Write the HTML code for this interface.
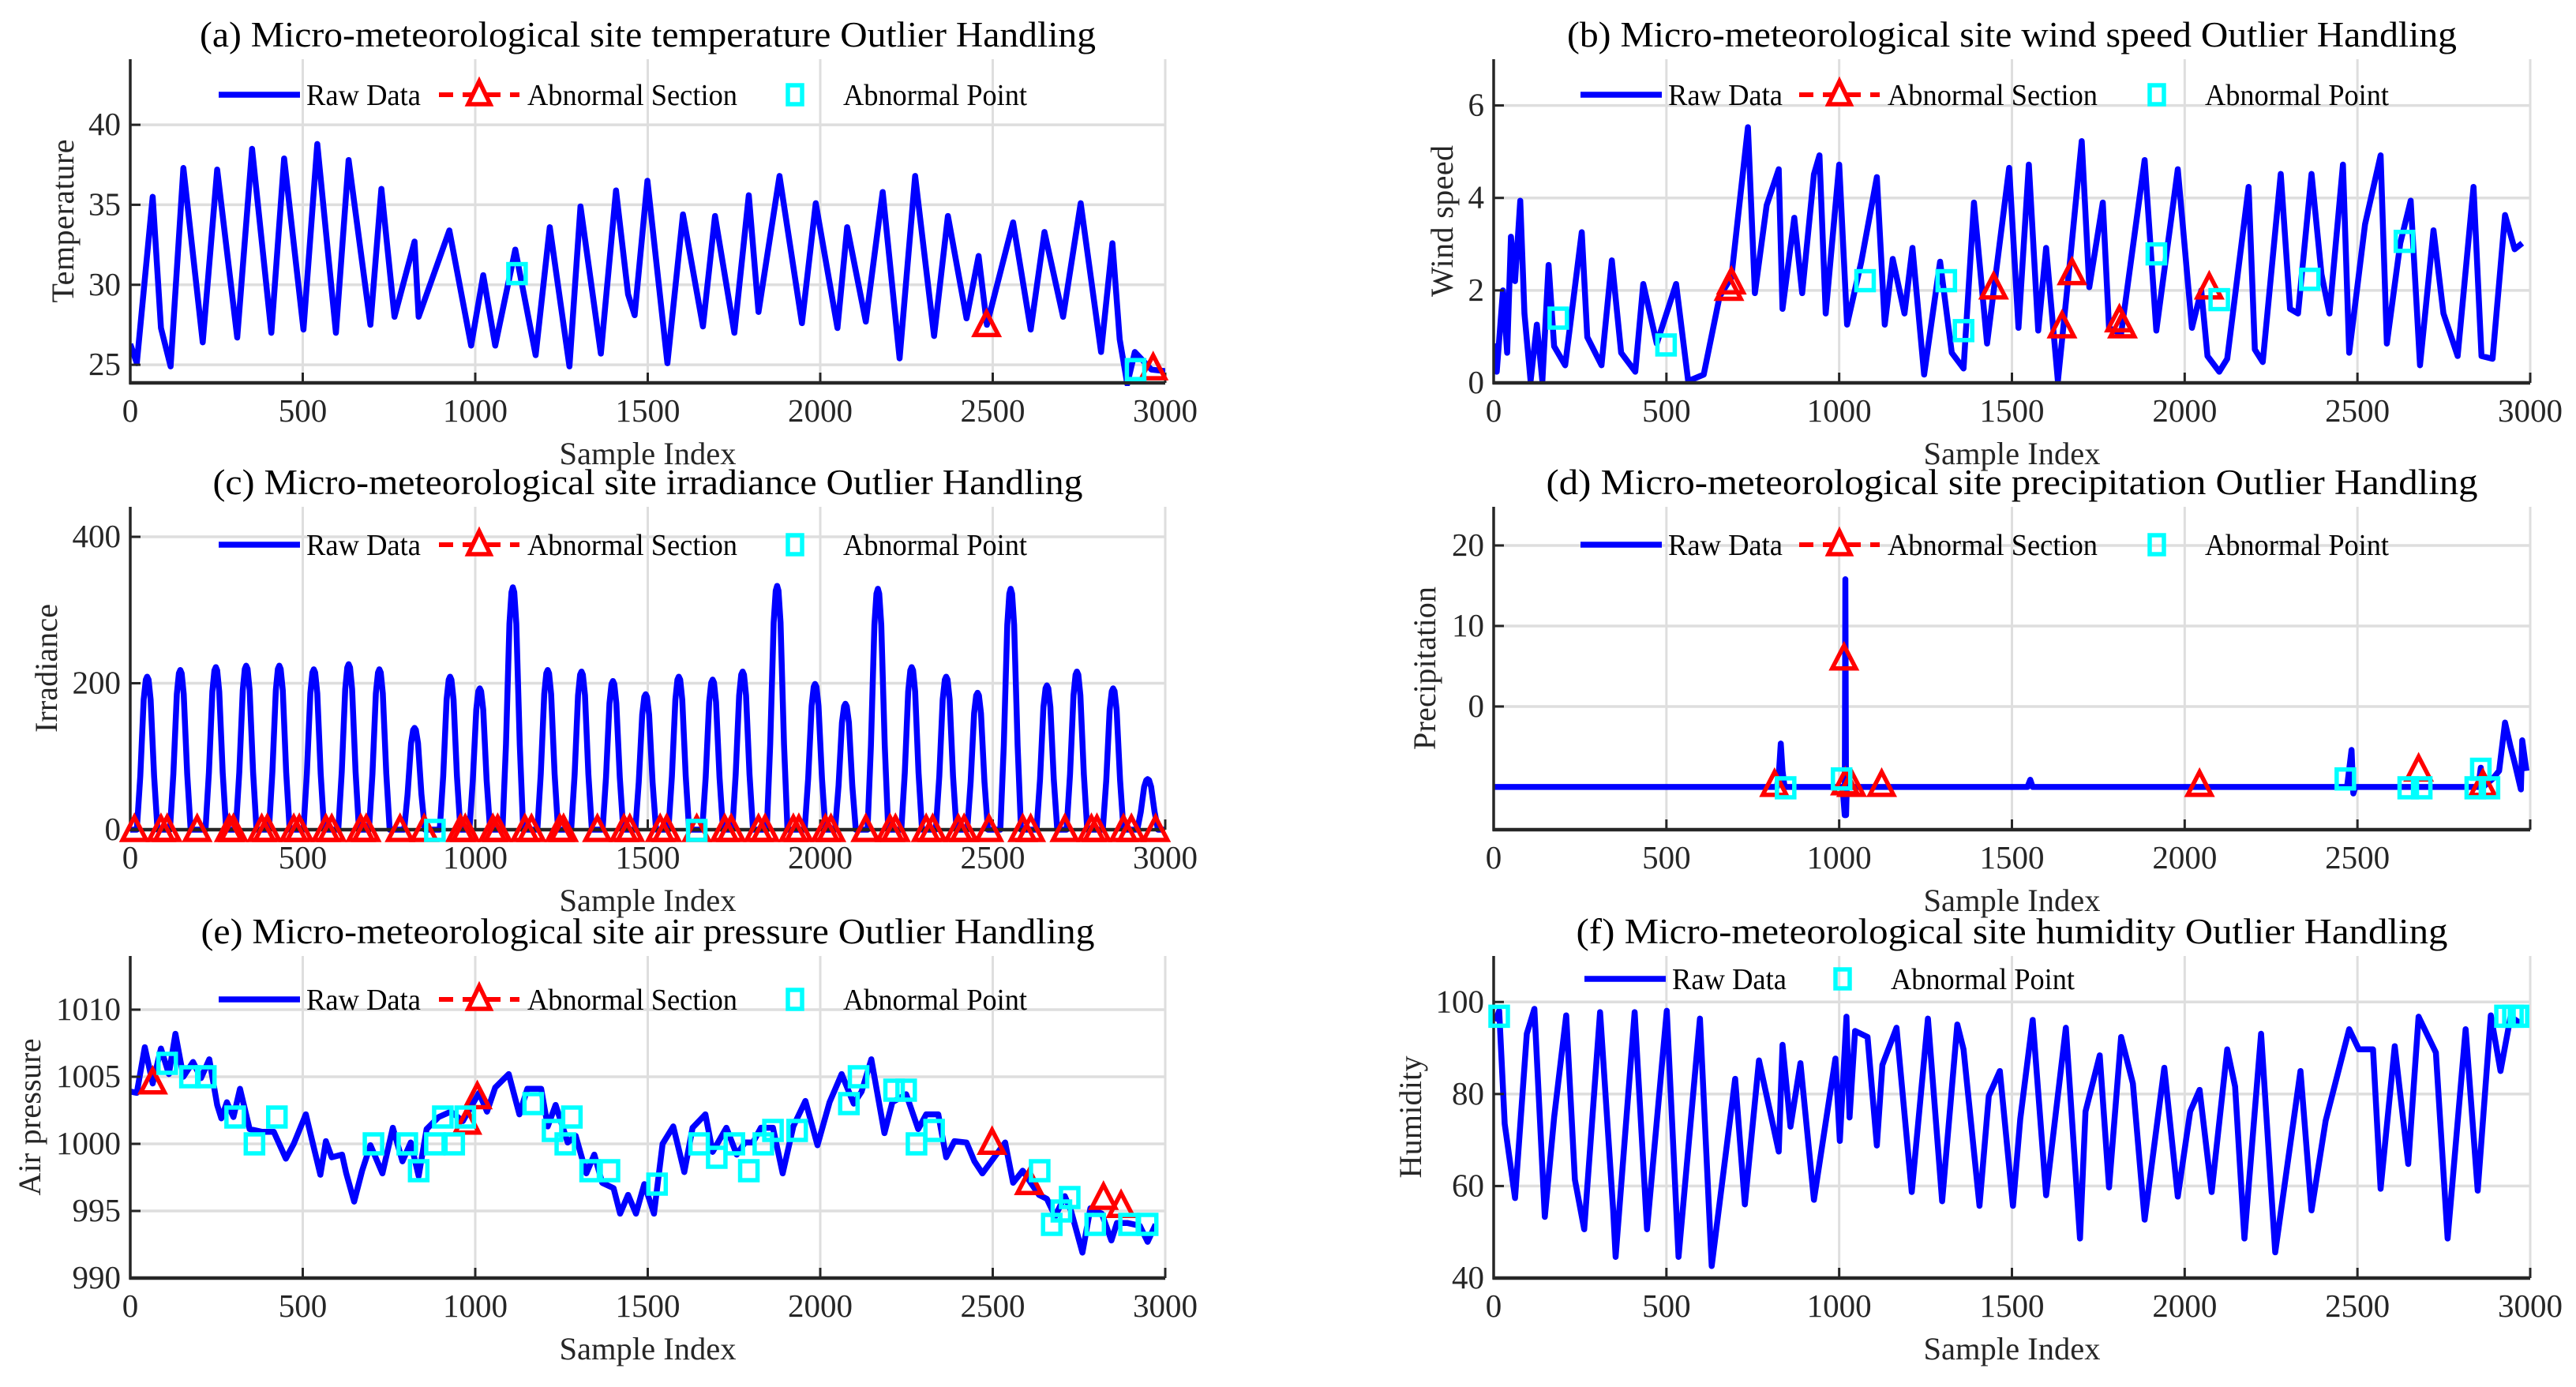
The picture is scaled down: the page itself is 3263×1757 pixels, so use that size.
<!DOCTYPE html>
<html><head><meta charset="utf-8"><style>
html,body{margin:0;padding:0;background:#fff;}
svg{display:block;font-family:"Liberation Serif",serif;}
</style></head><body>
<svg id="fig" width="3263" height="1757" viewBox="0 0 3263 1757" xmlns="http://www.w3.org/2000/svg"></svg>
<script>
// ---------------- DATA ----------------
// (a) temperature
const tempIdx=[0,19,65,89,117,154,210,252,310,353,409,446,502,542,596,633,696,728,766,824,836,925,988,1023,1058,1116,1175,1216,1273,1305,1364,1408,1443,1462,1499,1557,1602,1660,1695,1751,1793,1821,1882,1947,1987,2050,2078,2132,2181,2230,2275,2330,2370,2424,2459,2483,2559,2610,2650,2704,2755,2814,2847,2868,2890,2912,2960,3000];
const tempVal=[26.3,25.1,35.5,27.3,24.9,37.3,26.4,37.2,26.7,38.5,27.0,37.9,27.2,38.8,27.0,37.8,27.5,36.0,28.0,32.7,28.0,33.4,26.2,30.6,26.2,32.2,25.6,33.6,24.9,34.9,25.7,35.9,29.4,28.1,36.5,25.1,34.4,27.4,34.3,27.0,35.6,28.3,36.8,27.6,35.1,27.3,33.6,27.7,35.8,25.4,36.8,26.8,34.3,27.9,31.8,27.5,33.9,27.2,33.3,28.0,35.1,25.8,32.6,26.6,23.8,25.8,24.7,24.6];
const tempSecIdx=[2482,2965];
const tempSecVal=[27.5,24.8];
const tempPtIdx=[1121,2914];
const tempPtVal=[30.7,24.7];
// (b) wind speed
const windIdx=[0,9,27,39,50,62,77,89,107,125,141,159,175,207,255,271,312,342,369,410,433,472,528,563,608,654,688,736,756,790,825,836,870,893,927,943,961,1000,1023,1064,1109,1132,1155,1189,1212,1246,1292,1326,1360,1390,1428,1492,1519,1549,1576,1599,1633,1667,1702,1724,1763,1781,1816,1884,1918,1980,2021,2048,2066,2100,2123,2185,2203,2226,2278,2305,2328,2367,2396,2419,2458,2476,2522,2567,2585,2624,2654,2681,2720,2749,2790,2836,2859,2891,2927,2955,2977];
const windVal=[0.85,0.24,2.0,0.65,3.16,2.2,3.94,1.5,0.04,1.26,0.04,2.55,0.79,0.38,3.26,0.99,0.38,2.65,0.65,0.24,2.14,0.85,2.14,0.04,0.18,1.87,2.28,5.53,1.94,3.84,4.62,1.6,3.57,1.94,4.51,4.92,1.5,4.72,1.26,2.62,4.45,1.26,2.68,1.5,2.92,0.18,2.62,0.65,0.31,3.9,0.85,4.65,1.19,4.72,1.13,2.92,0.04,2.55,5.23,2.07,3.9,1.19,1.06,4.82,1.13,4.62,1.19,2.0,0.58,0.24,0.52,4.24,0.72,0.45,4.52,1.6,1.5,4.52,2.35,1.5,4.72,0.65,3.43,4.92,0.85,3.02,3.94,0.38,3.3,1.5,0.58,4.24,0.58,0.52,3.63,2.89,3.02];
const windSecIdx=[688,681,1447,1645,1674,1811,1820,2071];
const windSecVal=[2.18,2.04,2.07,1.23,2.38,1.36,1.23,2.07];
const windPtIdx=[187,499,1075,1310,1360,1918,2100,2362,2636];
const windPtVal=[1.4,0.82,2.21,2.21,1.13,2.79,1.8,2.24,3.06];
// (c) irradiance (daily peaks)
const irrPeakIdx=[49,145,248,336,432,532,633,722,824,927,1013,1109,1210,1308,1399,1494,1590,1688,1775,1875,1985,2073,2167,2265,2365,2456,2552,2657,2744,2849,2949];
const irrPeakVal=[209,218,222,224,224,219,226,219,139,209,193,331,218,216,203,185,209,205,216,333,199,172,329,222,209,187,329,197,216,193,69];
const irrSecIdx=[12,89,107,194,287,299,381,397,474,490,567,584,668,684,782,852,957,971,1051,1065,1144,1163,1245,1256,1354,1431,1448,1536,1555,1642,1723,1742,1821,1840,1922,1938,2015,2031,2132,2202,2218,2307,2326,2400,2417,2489,2587,2610,2709,2786,2802,2879,2902,2972];
const irrPtIdx=[883,1642];
// (d) precipitation
const precIdx=[0,820,826,831,836,842,1010,1016,1018,1020,1022,1028,1545,1553,1560,2470,2483,2488,2494,2850,2857,2864,2891,2910,2927,2943,2955,2973,2977,2989];
const precVal=[-10,-10,-8,-4.6,-8,-10,-10,-13.5,15.8,-13.5,-10,-10,-10,-9.1,-10,-10,-5.4,-10.8,-10,-10,-7.6,-10,-9.0,-8,-2.0,-5.0,-7.0,-10.3,-4.2,-8];
const precSecIdx=[813,1018,1014,1036,1123,2043,2677,2863];
const precSecVal=[-9.7,-9.5,6.0,-9.7,-9.7,-9.7,-7.8,-9.7];
const precPtIdx=[845,1007,2465,2647,2686,2857,2841,2882];
const precPtVal=[-10.1,-9.0,-9.0,-10.1,-10.1,-7.8,-10.1,-10.1];
// (e) air pressure
const presIdx=[0,19,42,65,89,112,131,154,182,205,229,252,264,280,299,318,346,381,416,451,474,509,551,567,584,614,626,649,672,696,731,761,789,813,836,859,894,929,964,1011,1034,1058,1097,1128,1151,1191,1210,1233,1268,1291,1322,1345,1368,1401,1420,1443,1466,1490,1518,1543,1574,1606,1630,1667,1688,1728,1758,1782,1805,1828,1863,1891,1922,1957,1992,2027,2062,2097,2120,2148,2186,2209,2249,2284,2307,2342,2365,2389,2424,2447,2470,2536,2559,2587,2610,2634,2657,2681,2709,2727,2760,2783,2816,2844,2860,2891,2926,2949,2972];
const presVal=[1003.9,1003.8,1007.2,1004.5,1007.1,1005.2,1008.2,1005.0,1006.1,1004.9,1006.3,1002.9,1001.9,1003.1,1002.0,1004.1,1001.1,1000.9,1000.9,998.9,1000.0,1002.2,997.7,1000.2,999.0,999.2,997.8,995.7,998.0,999.9,997.8,1001.2,998.7,1000.1,997.6,1001.1,1002.0,1002.4,1001.7,1003.8,1002.4,1004.2,1005.2,1002.2,1004.1,1004.1,1001.3,1002.9,1000.1,1000.6,997.8,999.2,997.1,996.7,994.8,996.2,994.8,997.0,994.8,1000.0,1001.3,997.9,1001.2,1002.2,999.4,1001.2,999.2,1000.1,1000.1,1001.2,1001.2,997.8,1001.3,1003.2,999.9,1003.1,1005.2,1003.0,1003.9,1006.3,1000.8,1003.1,1003.7,1001.1,1002.2,1002.2,999.0,1000.2,1000.1,998.7,997.8,1000.1,997.1,998.0,997.1,996.2,995.9,994.6,996.1,995.0,991.9,995.2,994.8,992.8,994.1,994.1,993.9,992.7,994.0];
const presSecIdx=[65,976,1006,2498,2606,2821,2872];
const presSecVal=[1004.6,1001.6,1003.5,1000.1,997.1,996.0,995.4];
const presPtIdx=[107,173,219,304,360,425,705,803,836,906,883,939,971,1168,1224,1280,1261,1333,1389,1527,1649,1700,1751,1793,1835,1863,1933,2083,2111,2214,2249,2279,2330,2636,2671,2699,2723,2797,2895,2949];
const presPtVal=[1006,1005,1005,1002,1000,1002,1000,1000,998,1002,1000,1000,1002,1003,1001,1002,1000,998,998,997,1000,999,1000,998,1000,1001,1001,1003,1005,1004,1004,1000,1001,998,994,995,996,994,994,994];
// (f) humidity
const humIdx=[5,16,32,62,96,118,148,175,210,235,262,308,346,353,408,444,501,535,597,631,699,727,768,825,836,859,888,927,989,1002,1021,1030,1046,1082,1109,1125,1166,1210,1257,1298,1342,1360,1406,1433,1465,1503,1524,1560,1599,1656,1697,1713,1754,1781,1816,1850,1884,1941,1980,2016,2043,2078,2123,2146,2173,2221,2262,2335,2367,2408,2476,2504,2545,2567,2608,2647,2677,2727,2761,2813,2848,2886,2914,2943,2977];
const humVal=[95.8,98.1,73.5,57.4,93.1,98.5,53.3,74.9,97.1,61.4,50.6,97.8,54.7,44.6,97.8,50.6,98.1,44.6,96.4,42.6,83.3,56.0,87.3,67.5,90.7,72.9,86.7,57.0,87.7,69.8,96.8,74.9,93.7,92.4,68.8,86.3,94.4,58.7,96.4,56.7,95.1,89.7,55.7,79.6,85.0,55.7,74.5,96.1,58.0,94.4,48.6,76.2,88.4,59.7,92.4,82.3,52.7,85.7,57.7,76.2,80.9,58.7,89.7,81.6,48.6,93.1,45.6,85.0,54.7,74.2,94.1,89.7,89.7,59.4,90.4,64.8,96.8,89.0,48.6,94.1,59.0,97.1,85.0,96.8,95.1];
const humPtIdx=[16,2927,2950,2966];
const humPtVal=[96.9,96.9,96.9,96.9];
const xTickVals=[0,500,1000,1500,2000,2500,3000];

// ---------------- DRAW ----------------
const NS='http://www.w3.org/2000/svg';
const svg=document.getElementById('fig');
function mk(tag,attrs,parent){const e=document.createElementNS(NS,tag);for(const k in attrs)e.setAttribute(k,attrs[k]);(parent||svg).appendChild(e);return e;}

const irrIdx=[0];const irrVal=[0];
for(let i=0;i<irrPeakIdx.length;i++){
  const p=irrPeakIdx[i],v=irrPeakVal[i];
  irrIdx.push(p-30,p-20,p-10,p-4,p,p+4,p+10,p+20,p+30);
  irrVal.push(0,v*0.35,v*0.85,v*0.98,v,v*0.98,v*0.85,v*0.35,0);
}
irrIdx.push(3000);irrVal.push(0);
const irrSecVal=irrSecIdx.map(()=>0);
const irrPtVal=irrPtIdx.map(()=>-1);

let clipN=0;
function panel(p){
  const g=mk('g',{});
  
  
  const sx=v=>p.x0+v/3000*(p.x1-p.x0);
  const sy=v=>p.y1-(v-p.ymin)/(p.ymax-p.ymin)*(p.y1-p.y0);
  xTickVals.forEach(t=>{ if(t>0){const l=mk('line',{x1:sx(t),x2:sx(t),y1:p.y0,y2:p.y1,stroke:'#dedede','stroke-width':3},g);
    
    }});
  p.yticks.forEach(t=>{const l=mk('line',{x1:p.x0,x2:p.x1,y1:sy(t),y2:sy(t),stroke:'#dedede','stroke-width':3.5},g);
    
    });
  const cid='c'+(clipN++);
  const cp=mk('clipPath',{id:cid},g);mk('rect',{x:p.x0,y:p.y0,width:p.x1-p.x0,height:p.y1-p.y0+4},cp);
  let d='';for(let i=0;i<p.idx.length;i++)d+=(i?'L':'M')+sx(p.idx[i]).toFixed(1)+','+sy(p.val[i]).toFixed(1);
  const path=mk('path',{d:d,fill:'none',stroke:'#0000ff','stroke-width':7.5,'stroke-linejoin':'round','clip-path':'url(#'+cid+')'},g);
  
  
  const ax=mk('line',{x1:p.x0,x2:p.x0,y1:p.y0,y2:p.y1+1.5,stroke:'#262626','stroke-width':3.5},g);
  
  
  const bx=mk('line',{x1:p.x0-1.5,x2:p.x1,y1:p.y1,y2:p.y1,stroke:'#262626','stroke-width':4.5},g);
  
  
  xTickVals.forEach(t=>{
    mk('line',{x1:sx(t),x2:sx(t),y1:p.y1,y2:p.y1-13,stroke:'#262626','stroke-width':3},g);
    if(p.noLast&&t===3000)return;
    const tx=mk('text',{x:sx(t),y:p.y1+49,'text-anchor':'middle','font-size':41,fill:'#262626'},g);
    tx.textContent=String(t);
    
    
  });
  p.yticks.forEach((t,i)=>{
    mk('line',{x1:p.x0,x2:p.x0+13,y1:sy(t),y2:sy(t),stroke:'#262626','stroke-width':3},g);
    const tx=mk('text',{x:p.x0-12,y:sy(t)+13,'text-anchor':'end','font-size':41,fill:'#262626'},g);
    tx.textContent=p.ylabels[i];
    
    
  });
  if(p.secIdx){p.secIdx.forEach((s,i)=>{const x=sx(s),y=sy(p.secVal[i]);
    const t=mk('polygon',{points:(x-15)+','+(y+13)+' '+(x+15)+','+(y+13)+' '+x+','+(y-16),fill:'none',stroke:'#ff0000','stroke-width':5.5},g);
    
    });}
  if(p.ptIdx){p.ptIdx.forEach((s,i)=>{const x=sx(s),y=sy(p.ptVal[i]);
    const r=mk('rect',{x:x-11,y:y-12,width:22,height:24,fill:'none',stroke:'#00ffff','stroke-width':5.5},g);
    
    });}
  const ti=mk('text',{x:(p.x0+p.x1)/2,y:p.y0-16,'text-anchor':'middle','font-size':45,fill:'#000',textLength:p.tlen,lengthAdjust:'spacingAndGlyphs'},g);
  ti.textContent=p.title;
  
  
  const xl=mk('text',{x:(p.x0+p.x1)/2,y:p.y1+103,'text-anchor':'middle','font-size':40,fill:'#262626',textLength:224,lengthAdjust:'spacingAndGlyphs'},g);
  xl.textContent='Sample Index';
  
  
  const cy=(p.y0+p.y1)/2;
  const yl=mk('text',{x:p.ylx,y:cy,'text-anchor':'middle','font-size':40,fill:'#262626',transform:'rotate(-90 '+p.ylx+' '+cy+')',textLength:p.yllen,lengthAdjust:'spacing',dy:13},g);
  yl.textContent=p.ylabel;
  
  
  const L=p.leg, ly=L.y;
  const lg=mk('g',{},g);
  
  
  mk('line',{x1:L.lx,x2:L.lx+103,y1:ly,y2:ly,stroke:'#0000ff','stroke-width':7.5},lg);
  const t1=mk('text',{x:L.lx+111,y:ly+13,'font-size':38,fill:'#000',textLength:145,lengthAdjust:'spacingAndGlyphs'},lg);
  t1.textContent='Raw Data';
  
  
  if(L.sx){
    mk('line',{x1:L.sx-51,x2:L.sx+51,y1:ly,y2:ly,stroke:'#ff0000','stroke-width':6,'stroke-dasharray':'18,12'},lg);
    mk('polygon',{points:(L.sx-14)+','+(ly+12)+' '+(L.sx+14)+','+(ly+12)+' '+L.sx+','+(ly-17),fill:'#fff',stroke:'#ff0000','stroke-width':5.5},lg);
    const t2=mk('text',{x:L.sx+61,y:ly+13,'font-size':38,fill:'#000',textLength:266,lengthAdjust:'spacingAndGlyphs'},lg);
    t2.textContent='Abnormal Section';
    
    
  }
  mk('rect',{x:L.px-9,y:ly-12,width:18,height:24,fill:'none',stroke:'#00ffff','stroke-width':5.5},lg);
  const t3=mk('text',{x:L.px+61,y:ly+13,'font-size':38,fill:'#000',textLength:233,lengthAdjust:'spacingAndGlyphs'},lg);
  t3.textContent='Abnormal Point';
  
  
}
const LX0=165,LX1=1476,RX0=1892,RX1=3205;
panel({name:'panel-a-temperature',x0:LX0,x1:LX1,y0:75,y1:485,ymin:23.87,ymax:44.1,yticks:[25,30,35,40],ylabels:['25','30','35','40'],
 idx:tempIdx,val:tempVal,secIdx:tempSecIdx,secVal:tempSecVal,ptIdx:tempPtIdx,ptVal:tempPtVal,
 title:'(a) Micro-meteorological site temperature Outlier Handling',tlen:1135,ylabel:'Temperature',ylx:80,yllen:207,
 leg:{y:120,lx:277,sx:607,px:1007}});
panel({name:'panel-b-wind-speed',x0:RX0,x1:RX1,y0:75,y1:485,ymin:0,ymax:7,yticks:[0,2,4,6],ylabels:['0','2','4','6'],
 idx:windIdx,val:windVal,secIdx:windSecIdx,secVal:windSecVal,ptIdx:windPtIdx,ptVal:windPtVal,
 title:'(b) Micro-meteorological site wind speed Outlier Handling',tlen:1127,ylabel:'Wind speed',ylx:1827,yllen:192,
 leg:{y:120,lx:2002,sx:2330,px:2732}});
panel({name:'panel-c-irradiance',x0:LX0,x1:LX1,y0:642,y1:1051,ymin:0,ymax:441,yticks:[0,200,400],ylabels:['0','200','400'],
 idx:irrIdx,val:irrVal,secIdx:irrSecIdx,secVal:irrSecVal,ptIdx:irrPtIdx,ptVal:irrPtVal,
 title:'(c) Micro-meteorological site irradiance Outlier Handling',tlen:1102,ylabel:'Irradiance',ylx:59,yllen:163,
 leg:{y:690,lx:277,sx:607,px:1007}});
panel({name:'panel-d-precipitation',x0:RX0,x1:RX1,y0:642,y1:1051,ymin:-15.3,ymax:24.8,yticks:[0,10,20],ylabels:['0','10','20'],noLast:true,
 idx:precIdx,val:precVal,secIdx:precSecIdx,secVal:precSecVal,ptIdx:precPtIdx,ptVal:precPtVal,
 title:'(d) Micro-meteorological site precipitation Outlier Handling',tlen:1180,ylabel:'Precipitation',ylx:1805,yllen:207,
 leg:{y:690,lx:2002,sx:2330,px:2732}});
panel({name:'panel-e-air-pressure',x0:LX0,x1:LX1,y0:1211,y1:1619,ymin:990,ymax:1014,yticks:[990,995,1000,1005,1010],ylabels:['990','995','1000','1005','1010'],
 idx:presIdx,val:presVal,secIdx:presSecIdx,secVal:presSecVal,ptIdx:presPtIdx,ptVal:presPtVal,
 title:'(e) Micro-meteorological site air pressure Outlier Handling',tlen:1132,ylabel:'Air pressure',ylx:38,yllen:199,
 leg:{y:1266,lx:277,sx:607,px:1007}});
panel({name:'panel-f-humidity',x0:RX0,x1:RX1,y0:1211,y1:1619,ymin:40,ymax:110,yticks:[40,60,80,100],ylabels:['40','60','80','100'],
 idx:humIdx,val:humVal,ptIdx:humPtIdx,ptVal:humPtVal,
 title:'(f) Micro-meteorological site humidity Outlier Handling',tlen:1104,ylabel:'Humidity',ylx:1787,yllen:155,
 leg:{y:1240,lx:2007,sx:0,px:2334}});
</script>
</body></html>
